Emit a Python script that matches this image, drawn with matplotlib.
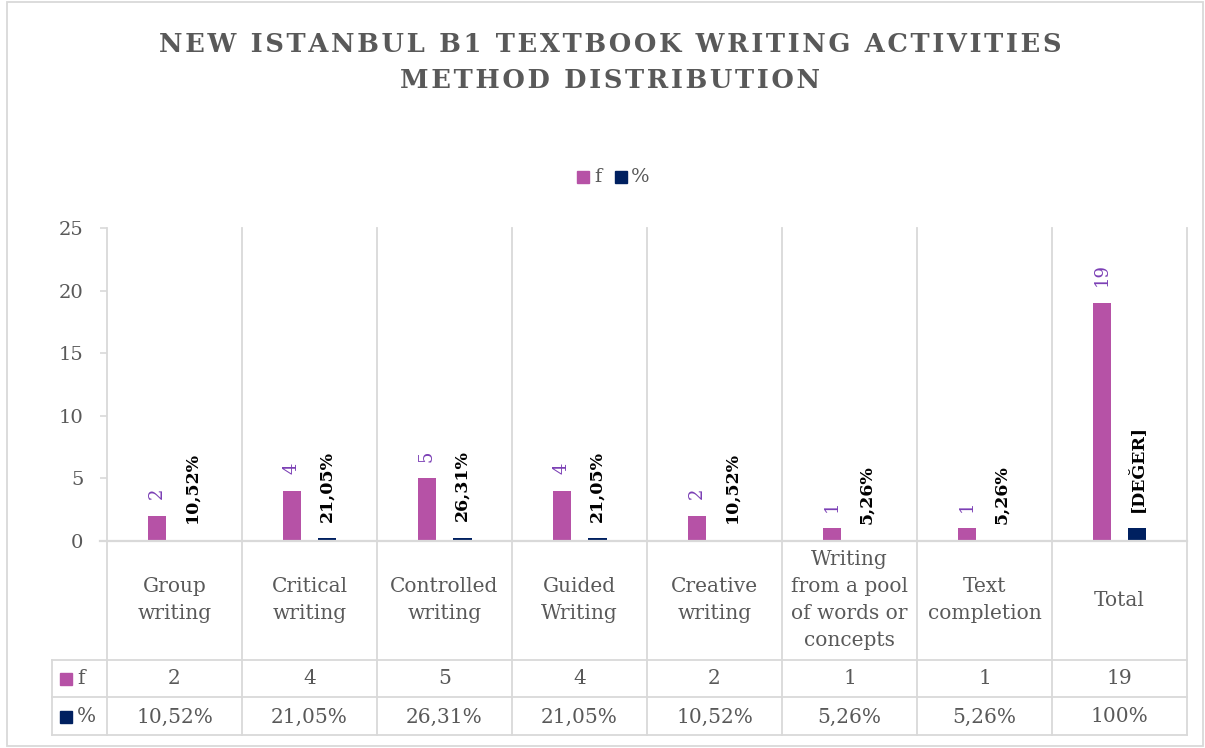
import matplotlib.pyplot as plt
import matplotlib.transforms as mtransforms
from matplotlib.patches import Rectangle
from matplotlib.lines import Line2D

# ------------------------------------------------------------
# Data
# ------------------------------------------------------------
categories = ["Group\nwriting", "Critical\nwriting", "Controlled\nwriting",
              "Guided\nWriting", "Creative\nwriting",
              "Writing\nfrom a pool\nof words or\nconcepts",
              "Text\ncompletion", "Total"]
f_values = [2, 4, 5, 4, 2, 1, 1, 19]
pct_values = [0.1052, 0.2105, 0.2631, 0.2105, 0.1052, 0.0526, 0.0526, 1.0]
pct_bar_labels = ["10,52%", "21,05%", "26,31%", "21,05%", "10,52%",
                  "5,26%", "5,26%", "[DEĞER]"]
pct_table_labels = ["10,52%", "21,05%", "26,31%", "21,05%", "10,52%",
                    "5,26%", "5,26%", "100%"]
y_ticks = [0, 5, 10, 15, 20, 25]
title_lines = ["NEW ISTANBUL B1 TEXTBOOK WRITING ACTIVITIES",
               "METHOD DISTRIBUTION"]

PINK = "#B652A6"
NAVY = "#002060"
GRAY_TXT = "#595959"
GRID = "#D9D9D9"
LABEL_PURPLE = "#7B3FB5"

W, H = 1205, 748
plt.rcParams["font.family"] = ["DejaVu Serif"]

fig = plt.figure(figsize=(W / 100, H / 100), dpi=100)


def fx(x):
    return x / W


def fy(y):
    return 1 - y / H


# plot area (pixels): x 107..1187, y 228..541
ax = fig.add_axes([fx(107), fy(541), fx(1187) - fx(107), fy(228) - fy(541)])
n = len(categories)
xs = list(range(n))
bw = 0.14
off = 0.13

ax.bar([x - off for x in xs], f_values, width=bw, color=PINK, zorder=3)
ax.bar([x + off for x in xs], pct_values, width=bw, color=NAVY, zorder=3)

for x, v in zip(xs, f_values):
    ax.annotate(str(v), (x - off, v), xytext=(0, 12), textcoords="offset points",
                rotation=90, ha="center", va="bottom", fontsize=13,
                color=LABEL_PURPLE)
for x, v, lab in zip(xs, pct_values, pct_bar_labels):
    ax.annotate(lab, (x + off, v), xytext=(0, 12), textcoords="offset points",
                rotation=90, ha="center", va="bottom", fontsize=12.5,
                fontweight="bold", color="black")

ax.set_xlim(-0.5, n - 0.5)
ax.set_ylim(0, 25)
ax.set_yticks(y_ticks)
ax.tick_params(axis="y", length=5, width=1.2, color=GRID, pad=12,
               labelsize=14, labelcolor=GRAY_TXT)
ax.set_xticks([])
for s in ["top", "right", "left", "bottom"]:
    ax.spines[s].set_visible(False)

# ------------------------------------------------------------
# Grid / data table lines
# ------------------------------------------------------------
bt = mtransforms.blended_transform_factory(ax.transData, fig.transFigure)
bounds = [i - 0.5 for i in range(n + 1)]
for b in bounds:
    fig.add_artist(Line2D([b, b], [fy(228), fy(735)], transform=bt,
                          color=GRID, lw=1.3, zorder=1))
# axis line at zero
fig.add_artist(Line2D([fx(100), fx(1187)], [fy(541), fy(541)],
                      transform=fig.transFigure, color=GRID, lw=1.6))
for yy in [660, 697, 735]:
    fig.add_artist(Line2D([fx(52), fx(1187)], [fy(yy), fy(yy)],
                          transform=fig.transFigure, color=GRID, lw=1.3))
fig.add_artist(Line2D([fx(52), fx(52)], [fy(660), fy(735)],
                      transform=fig.transFigure, color=GRID, lw=1.3))

# category labels
for x, c in zip(xs, categories):
    fig.text(x, fy(600), c, transform=bt, ha="center", va="center",
             fontsize=14.5, color=GRAY_TXT, linespacing=1.55)
# table rows
for x, v in zip(xs, f_values):
    fig.text(x, fy(679), str(v), transform=bt, ha="center", va="center",
             fontsize=14.5, color=GRAY_TXT)
for x, lab in zip(xs, pct_table_labels):
    fig.text(x, fy(717), lab, transform=bt, ha="center", va="center",
             fontsize=14.5, color=GRAY_TXT)
# row headers
for yy, col, lab in [(679, PINK, "f"), (717, NAVY, "%")]:
    fig.add_artist(Rectangle((fx(60), fy(yy + 6)), fx(12), 12 / H,
                             transform=fig.transFigure, color=col))
    fig.text(fx(77), fy(yy), lab, ha="left", va="center", fontsize=14.5,
             color=GRAY_TXT)

# ------------------------------------------------------------
# Legend
# ------------------------------------------------------------
fig.add_artist(Rectangle((fx(577), fy(183)), fx(12), 12 / H,
                         transform=fig.transFigure, color=PINK))
fig.text(fx(594), fy(177), "f", ha="left", va="center", fontsize=14,
         color=GRAY_TXT)
fig.add_artist(Rectangle((fx(615), fy(183)), fx(12), 12 / H,
                         transform=fig.transFigure, color=NAVY))
fig.text(fx(631), fy(177), "%", ha="left", va="center", fontsize=14,
         color=GRAY_TXT)

# ------------------------------------------------------------
# Title (letter-spaced with hair spaces)
# ------------------------------------------------------------
for yy, line in zip([45, 80], title_lines):
    spaced = "\u200a".join(line)
    fig.text(fx(610), fy(yy), spaced, ha="center", va="center",
             fontsize=18.5, fontweight="bold", color=GRAY_TXT)

# outer border
fig.add_artist(Rectangle((fx(7), fy(746)), fx(1196), 744 / H,
                         transform=fig.transFigure, fill=False,
                         edgecolor=GRID, lw=1.3))

fig.savefig("out.png", dpi=100)
